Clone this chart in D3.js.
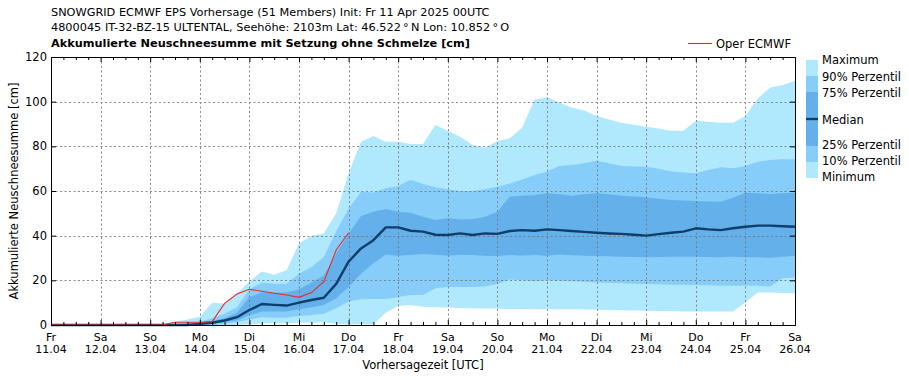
<!DOCTYPE html>
<html><head><meta charset="utf-8">
<script src="https://cdn.jsdelivr.net/npm/d3@7"></script>
<style>body{margin:0;background:#fff}svg{display:block}text{font-family:"DejaVu Sans",sans-serif;fill:#000}</style>
</head><body><div id="chart"></div>
<script>
const titleLines = [
  "SNOWGRID ECMWF EPS Vorhersage (51 Members) Init: Fr 11 Apr 2025 00UTC",
  "4800045 IT-32-BZ-15 ULTENTAL, Seehöhe: 2103m Lat: 46.522\u2009°\u2009N Lon: 10.852\u2009°\u2009O"
];
const subTitle = "Akkumulierte Neuschneesumme mit Setzung ohne Schmelze [cm]";
const yLabel = "Akkumulierte Neuschneesumme [cm]";
const xLabel = "Vorhersagezeit [UTC]";
const dayNames = ["Fr","Sa","So","Mo","Di","Mi","Do","Fr","Sa","So","Mo","Di","Mi","Do","Fr","Sa"];
const dayDates = ["11.04","12.04","13.04","14.04","15.04","16.04","17.04","18.04","19.04","20.04","21.04","22.04","23.04","24.04","25.04","26.04"];
const yTicks = [0,20,40,60,80,100,120];
const stepHours = 6;

const maxV = [0,0,0,0,0,0,0,0,0,0.5,1.5,2.5,3.7,10,9.5,14,19.5,24,22.5,24.5,36.5,40,41,50,68,82,84.6,82,82,81,81,89.6,87,84.3,80.6,79.4,82.4,83.6,88.4,101,102,99.6,97.3,96,93.6,92,90.6,89.7,88.8,88,87,87,91.5,91,90.6,90.6,93.6,101.5,106.3,107.5,109.3];
const p90 = [0,0,0,0,0,0,0,0,0,0,0.5,1,1.5,3,5,8,16,19,18.5,18.5,23,26,30.5,42,52,59.7,59.3,61.2,62.2,65,63.1,61.7,60.8,60,60,60.8,61.9,63.4,65.2,67.2,68.7,71.2,71.6,72.4,73.6,72.4,71.2,71,70.9,70,68.7,68.3,67.9,69.4,70.6,70.2,71.2,73.1,73.9,74.2,74.2];
const p75 = [0,0,0,0,0,0,0,0,0,0,0,0.5,1,1.8,3,5.5,12.5,14.5,14.5,14.5,16,19,22,32,41,48.8,50.7,51.9,50.7,50.3,48.5,47,47.8,47.3,47.3,48.5,50.7,57.5,57.9,58.2,59,58.5,57.9,58.5,59,58.5,57.9,57.5,57.2,56.5,56,55.8,55.5,55.3,55.2,57,59.2,59,58.7,59,59.2];
const median = [0,0,0,0,0,0,0,0,0,0,0,0,0.5,1,2,3.5,6.7,9.4,9,8.7,10,11.2,12.2,18.4,28.4,34.3,38,43.7,43.7,42.2,41.8,40.4,40.3,41,40.3,41,40.8,42.1,42.5,42.2,42.8,42.5,42.1,41.7,41.3,41,40.8,40.4,40,40.7,41.3,41.8,43.3,42.8,42.5,43.3,44,44.5,44.5,44.2,44];
const p25 = [0,0,0,0,0,0,0,0,0,0,0,0,0,0.5,1.3,2,4.5,6,6,6,7,8,9,12,17,23,27.6,31.6,31,31.3,31.8,31.5,31,31.5,31.3,31,30.9,31.3,31,31.3,31,31.6,31.2,31,30.9,30.8,30.6,30.5,30.3,30.4,30.6,30.6,30.6,30.5,30.3,30.6,30.3,30.3,30.1,30.6,31];
const p10 = [0,0,0,0,0,0,0,0,0,0,0,0,0,0,0.5,1.2,2.5,3.5,3.3,3.3,4,4.5,5,7.5,10.5,11.5,11.6,11.6,12.5,13.4,13.4,16.4,17,17,17,17.2,18.4,20.4,20,19.6,20,19.8,19.6,19.4,19,18.9,18.7,18.5,18.4,18.2,18,18,17.9,17.8,17.6,17.6,17.6,17.6,17.2,20.9,21.3];
const minV = [0,0,0,0,0,0,0,0,0,0,0,0,0,0,0,0,0.3,0.8,0.8,0.8,1,1,1.2,0.5,0.3,0.2,0.3,5.5,8.5,9,8.2,8,7.8,7.6,7.5,7.4,7.3,7.2,7.2,7.1,7.1,7,7,6.9,6.8,6.7,6.6,6.5,6.4,6.3,6.2,6.1,6,6,6,6,10.2,14.6,14.5,14.3,14.2];
const oper = [0,0,0,0,0,0,0,0,0,0,1.2,1.2,1.2,1.5,9.7,13.9,16,15.1,14.2,13.4,12.4,14.5,19.4,33.6,41.3];

const colLight = "#b0e9fd", colMid = "#86cdf9", colDark = "#64b0ea", colMed = "#0e3e6c", colRed = "#f02828";

const W = 909, H = 380;
const m = {l:51, r:795, t:57, b:325};
const totalHours = (dayNames.length-1)*24;
const x = d3.scaleLinear().domain([0,totalHours]).range([m.l,m.r]);
const y = d3.scaleLinear().domain([0,120]).range([m.b,m.t]);

const svg = d3.select("#chart").append("svg").attr("width",W).attr("height",H);
const hour = i => i*stepHours;

function band(lo, hi, color){
  const area = d3.area().x((d,i)=>x(hour(i))).y0((d,i)=>y(lo[i])).y1((d,i)=>y(hi[i]));
  svg.append("path").datum(hi).attr("d",area).attr("fill",color);
}
band(minV, maxV, colLight);
band(p10, p90, colMid);
band(p25, p75, colDark);

// grid
const dayHours = dayNames.map((d,i)=>i*24);
const g = svg.append("g").attr("stroke","#777").attr("stroke-width",1).attr("stroke-dasharray","2,2.5").attr("opacity",0.85);
dayHours.slice(1,-1).forEach(h=>g.append("line").attr("x1",Math.round(x(h))+0.5).attr("x2",Math.round(x(h))+0.5).attr("y1",m.t).attr("y2",m.b));
yTicks.slice(1,-1).forEach(v=>g.append("line").attr("y1",Math.round(y(v))+0.5).attr("y2",Math.round(y(v))+0.5).attr("x1",m.l).attr("x2",m.r));

// lines
const line = d3.line().x((d,i)=>x(hour(i))).y(d=>y(d));
svg.append("path").datum(median).attr("d",line).attr("fill","none").attr("stroke",colMed).attr("stroke-width",2.4).attr("stroke-linejoin","round");
svg.append("path").datum(oper).attr("d",line).attr("fill","none").attr("stroke",colRed).attr("stroke-width",1.1);

// axes with inward ticks
const allHours = d3.range(0,totalHours+1,stepHours);
const minorH = allHours.filter(h=>h%24!==0);
const axB = d3.axisBottom(x).tickValues(dayHours).tickSize(-5).tickFormat("");
const axBm = d3.axisBottom(x).tickValues(minorH).tickSize(-3).tickFormat("");
const axT = d3.axisTop(x).tickValues(dayHours).tickSize(-5).tickFormat("");
const axTm = d3.axisTop(x).tickValues(minorH).tickSize(-3).tickFormat("");
const axL = d3.axisLeft(y).tickValues(yTicks).tickSize(-5).tickFormat("");
const axR = d3.axisRight(y).tickValues(yTicks).tickSize(-5).tickFormat("");
[[axB,`translate(0,${m.b})`],[axBm,`translate(0,${m.b})`],[axT,`translate(0,${m.t})`],[axTm,`translate(0,${m.t})`],[axL,`translate(${m.l},0)`],[axR,`translate(${m.r},0)`]].forEach(([a,t])=>{
  const gg = svg.append("g").attr("transform",t).call(a);
  gg.select(".domain").remove();
  gg.selectAll("line").attr("stroke","#000");
});
svg.append("rect").attr("x",m.l+0.5).attr("y",m.t+0.5).attr("width",m.r-m.l).attr("height",m.b-m.t).attr("fill","none").attr("stroke","#000").attr("stroke-width",1);

// tick labels
yTicks.forEach(v=>svg.append("text").attr("x",m.l-4).attr("y",y(v)).attr("dy","0.35em").attr("text-anchor","end").attr("font-size",11.5).text(v));
dayHours.forEach((h,i)=>{
  svg.append("text").attr("x",x(h)).attr("y",340.5).attr("text-anchor","middle").attr("font-size",11).text(dayNames[i]);
  svg.append("text").attr("x",x(h)).attr("y",353).attr("text-anchor","middle").attr("font-size",11).text(dayDates[i]);
});
svg.append("text").attr("x",(m.l+m.r)/2).attr("y",369).attr("text-anchor","middle").attr("font-size",11.5).text(xLabel);
svg.append("text").attr("transform",`translate(18,${(m.t+m.b)/2}) rotate(-90)`).attr("text-anchor","middle").attr("font-size",11.5).text(yLabel);

// titles
svg.append("text").attr("x",51).attr("y",16).attr("font-size",11.3).text(titleLines[0]);
svg.append("text").attr("x",51).attr("y",31).attr("font-size",11.3).text(titleLines[1]);
svg.append("text").attr("x",51).attr("y",47).attr("font-size",11.3).attr("font-weight","bold").text(subTitle);

// oper legend
svg.append("line").attr("x1",688).attr("x2",712).attr("y1",43.5).attr("y2",43.5).attr("stroke",colRed).attr("stroke-width",1.1);
svg.append("text").attr("x",716).attr("y",47.5).attr("font-size",11.5).text("Oper ECMWF");

// band legend
const legItems = [
  {y0:60,y1:76,c:colLight},{y0:76,y1:92,c:colMid},{y0:92,y1:119,c:colDark},
  {y0:119,y1:146,c:colDark},{y0:146,y1:162,c:colMid},{y0:162,y1:178,c:colLight}
];
legItems.forEach(d=>svg.append("rect").attr("x",806).attr("y",d.y0).attr("width",12).attr("height",d.y1-d.y0).attr("fill",d.c));
svg.append("line").attr("x1",806).attr("x2",818).attr("y1",119).attr("y2",119).attr("stroke",colMed).attr("stroke-width",2.3);
const legLabels = [["Maximum",60],["90% Perzentil",76.5],["75% Perzentil",92.5],["Median",120],["25% Perzentil",145],["10% Perzentil",161],["Minimum",177]];
legLabels.forEach(([t,yy])=>svg.append("text").attr("x",822).attr("y",yy).attr("dy","0.35em").attr("font-size",11.5).text(t));
</script></body></html>
